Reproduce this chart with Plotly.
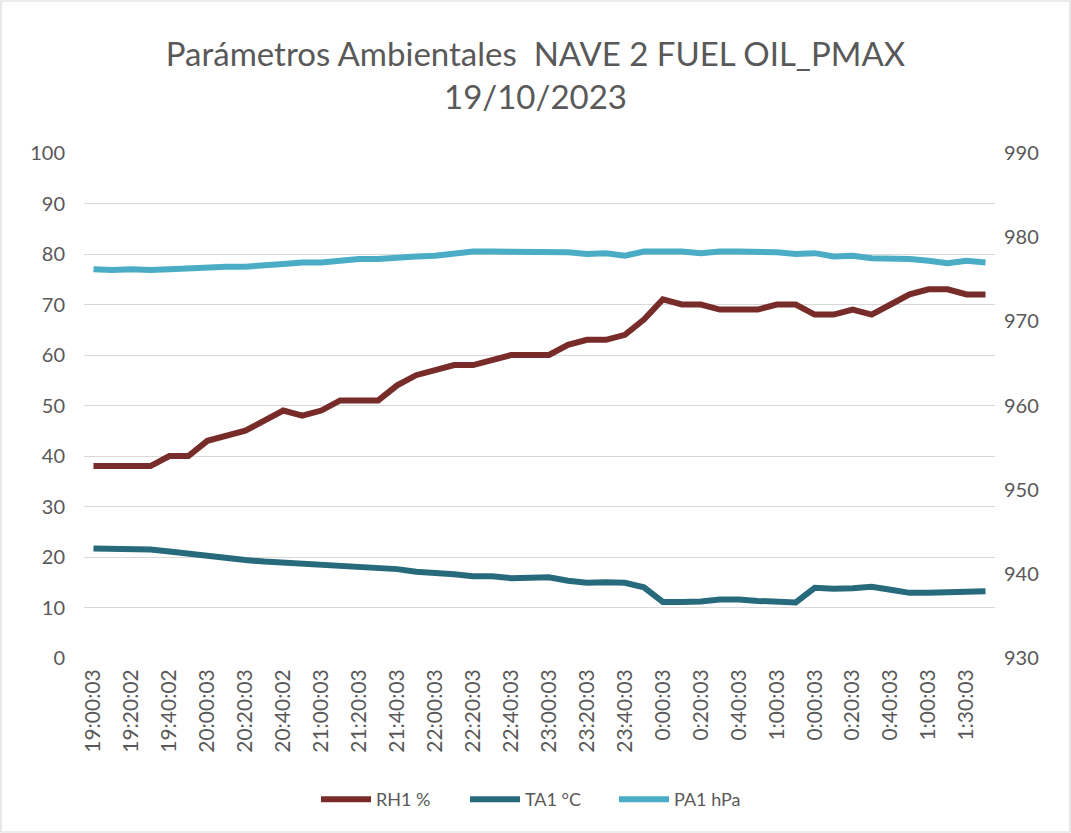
import plotly.graph_objects as go

times = ["19:00:03", "19:10:03", "19:20:02", "19:30:03", "19:40:02", "19:50:03",
         "20:00:03", "20:10:03", "20:20:03", "20:30:03", "20:40:02", "20:50:03",
         "21:00:03", "21:10:03", "21:20:03", "21:30:03", "21:40:03", "21:50:03",
         "22:00:03", "22:10:03", "22:20:03", "22:30:03", "22:40:03", "22:50:03",
         "23:00:03", "23:10:03", "23:20:03", "23:30:03", "23:40:03", "23:50:03",
         "0:00:03", "0:10:03", "0:20:03", "0:30:03", "0:40:03", "0:50:03",
         "1:00:03", "1:10:03", "0:00:03", "0:10:03", "0:20:03", "0:30:03",
         "0:40:03", "0:50:03", "1:00:03", "1:10:03", "1:30:03", "1:40:03"]

rh1 = [38, 38, 38, 38, 40, 40, 43, 44, 45, 47, 49, 48, 49, 51, 51, 51, 54, 56, 57, 58,
       58, 59, 60, 60, 60, 62, 63, 63, 64, 67, 71, 70, 70, 69, 69, 69, 70, 70, 68, 68,
       69, 68, 70, 72, 73, 73, 72, 72]

ta1 = [21.7, 21.7, 21.6, 21.5, 21.1, 20.6, 20.2, 19.9, 19.4, 19.1, 18.9, 18.6, 18.6, 18.3,
       18.1, 17.8, 17.6, 17.1, 16.9, 16.6, 16.2, 16.2, 15.8, 15.9, 16.0, 15.3, 14.9, 15.0,
       14.9, 14.0, 11.1, 11.1, 11.2, 11.6, 11.6, 11.3, 11.1, 11.0, 13.9, 13.7, 13.8, 14.1,
       13.5, 12.9, 12.9, 13.0, 13.3, 13.2]

pa1 = [976.2, 976.1, 976.2, 976.1, 976.2, 976.3, 976.5, 976.5, 976.5, 976.6, 976.8, 977.0,
       977.0, 977.2, 977.4, 977.4, 977.6, 977.7, 977.8, 978.0, 978.3, 978.3, 978.3, 978.3,
       978.3, 978.2, 978.0, 978.1, 977.8, 978.3, 978.3, 978.3, 978.1, 978.3, 978.3, 978.3,
       978.2, 978.0, 978.1, 977.7, 977.8, 977.5, 977.5, 977.4, 977.2, 976.9, 977.2, 977.0]

x_idx = list(range(len(times)))
tick_idx = x_idx[::2]
tick_txt = times[::2]

FONT = "Lato, Calibri, sans-serif"
TXT = "#595959"

fig = go.Figure()
fig.add_trace(go.Scatter(x=x_idx, y=rh1, name="RH1 %", mode="lines",
                         line=dict(color="#772C2A", width=6), yaxis="y"))
fig.add_trace(go.Scatter(x=x_idx, y=ta1, name="TA1 °C", mode="lines",
                         line=dict(color="#276A7C", width=6), yaxis="y"))
fig.add_trace(go.Scatter(x=x_idx, y=pa1, name="PA1 hPa", mode="lines",
                         line=dict(color="#4BACC6", width=6), yaxis="y2"))

W, H = 1071, 833
L, R, T, B = 84, 76, 153, 175
pw, ph = W - L - R, H - T - B

fig.update_layout(
    width=W, height=H,
    margin=dict(l=L, r=R, t=T, b=B),
    paper_bgcolor="white", plot_bgcolor="white",
    font=dict(family=FONT, color=TXT, size=19),
    title=dict(text="Parámetros Ambientales  NAVE 2 FUEL OIL_PMAX<br>19/10/2023",
               x=0.5, xanchor="center", y=1 - 66 / H, yanchor="top",
               font=dict(family=FONT, size=33, color=TXT)),
    xaxis=dict(range=[-0.5, len(times) - 0.5], tickmode="array", tickvals=tick_idx,
               ticktext=tick_txt, tickangle=-90, showgrid=False, zeroline=False,
               showline=False, ticks="", ticklabelstandoff=6,
               tickfont=dict(size=21, color=TXT)),
    yaxis=dict(range=[0, 100], dtick=10, showgrid=True, gridcolor="#D9D9D9",
               gridwidth=1.3, zeroline=False, showline=False, ticks="",
               ticklabelstandoff=18, tickfont=dict(size=20, color=TXT)),
    yaxis2=dict(range=[930, 990], dtick=10, overlaying="y", side="right",
                showgrid=False, zeroline=False, showline=False, ticks="",
                ticklabelstandoff=8, tickfont=dict(size=20, color=TXT)),
    legend=dict(orientation="h", x=0.5, xanchor="center", y=-(798 - 658 - 17) / ph,
                yanchor="top", font=dict(size=18, color=TXT), itemwidth=50,
                entrywidth=84, entrywidthmode="pixels", traceorder="normal"),
    showlegend=True,
    shapes=[dict(type="rect", xref="paper", yref="paper",
                 x0=-(L - 1) / pw, x1=1 + (R - 1) / pw,
                 y0=-(B - 1) / ph, y1=1 + (T - 1) / ph,
                 line=dict(color="#D9D9D9", width=1.2), layer="below")],
)

fig.write_html("out.html", config={"displayModeBar": False},
               post_script="document.body.style.margin='0';document.body.style.overflow='hidden';")
